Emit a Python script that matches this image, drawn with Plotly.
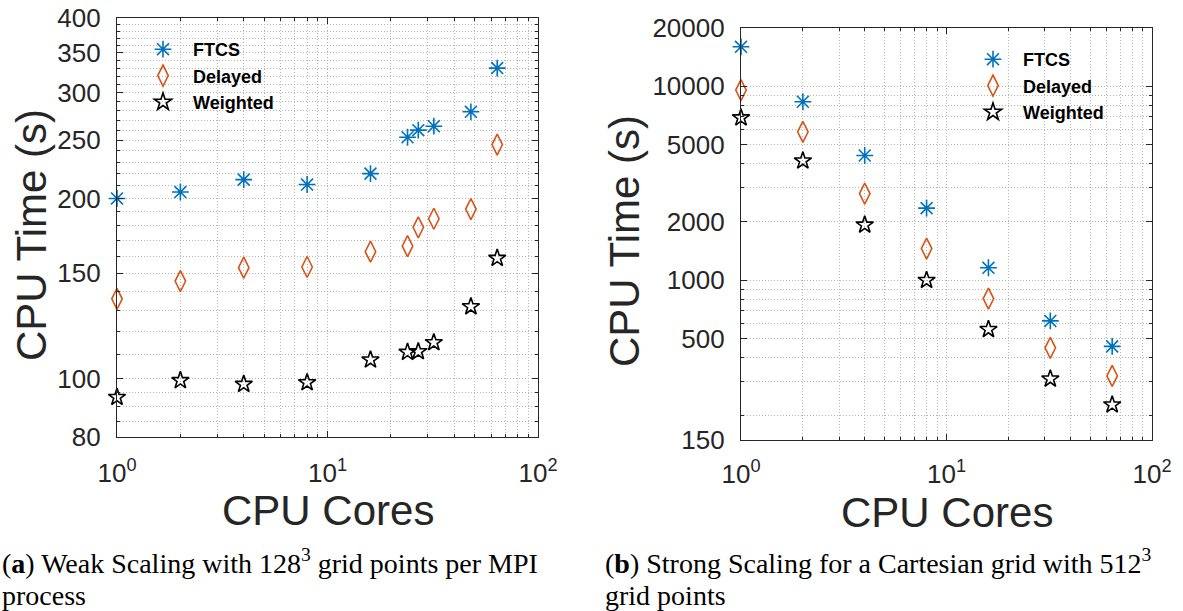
import math
import plotly.graph_objects as go

W, H = 1183, 611

# ---------------- data ----------------
weak_cores = [1, 2, 4, 8, 16, 24, 27, 32, 48, 64]
weak_ftcs = [200, 205, 215, 211, 220, 253, 260, 264, 279, 330]
weak_delayed = [136, 145.6, 153.3, 153.7, 163, 166.5, 179, 185, 192, 246]
weak_weighted = [93.2, 99.4, 98.0, 98.6, 107.6, 110.8, 111.1, 115.0, 132.0, 159]

strong_cores = [1, 2, 4, 8, 16, 32, 64]
strong_ftcs = [16000, 8330, 4400, 2355, 1160, 617, 456]
strong_delayed = [9570, 5830, 2800, 1457, 804, 448, 321]
strong_weighted = [6890, 4130, 1930, 1000, 558, 310, 228]

series_names = ["FTCS", "Delayed", "Weighted"]
x_tickvals = [1, 10, 100]
x_ticktext = ["10<sup>0</sup>", "10<sup>1</sup>", "10<sup>2</sup>"]
x_minor = [2, 3, 4, 5, 6, 7, 8, 9, 20, 30, 40, 50, 60, 70, 80, 90]
weak_yticks = [80, 100, 150, 200, 250, 300, 350, 400]
weak_yminor = [85, 90, 95] + [v for v in range(110, 400, 10) if v not in (150, 200, 250, 300, 350)]
strong_yticks = [150, 500, 1000, 2000, 5000, 10000, 20000]
strong_yminor = [200, 300, 400, 600, 700, 800, 900, 3000, 4000, 6000, 7000, 8000, 9000]

caption_a = ["(<b>a</b>) Weak Scaling with 128<sup>3</sup> grid points per MPI", "process"]
caption_b = ["(<b>b</b>) Strong Scaling for a Cartesian grid with 512<sup>3</sup>", "grid points"]

# ---------------- styles ----------------
AX = "#262626"
GRID = "#b4b4b4"
GDASH = "1px,2px"
styles = [
    dict(symbol="asterisk-open", size=14, color="#0072BD"),
    dict(symbol="diamond-tall-open", size=15, color="#D95319"),
    dict(symbol="star-open", size=13, color="#000000"),
]


def px(x):
    return x / W


def py(y):
    return (H - y) / H


fig = go.Figure()

for name, ys, st in zip(series_names, [weak_ftcs, weak_delayed, weak_weighted], styles):
    fig.add_trace(go.Scatter(
        x=weak_cores, y=ys, mode="markers", name=name, xaxis="x", yaxis="y",
        legend="legend", cliponaxis=False,
        marker=dict(symbol=st["symbol"], size=st["size"], color=st["color"],
                    line=dict(color=st["color"], width=1.6)),
    ))
for name, ys, st in zip(series_names, [strong_ftcs, strong_delayed, strong_weighted], styles):
    fig.add_trace(go.Scatter(
        x=strong_cores, y=ys, mode="markers", name=name, xaxis="x2", yaxis="y2",
        legend="legend2", cliponaxis=False,
        marker=dict(symbol=st["symbol"], size=st["size"], color=st["color"],
                    line=dict(color=st["color"], width=1.6)),
    ))

tickfont = dict(family="Liberation Sans, Arial", size=26, color=AX)


def xaxis(domain, anchor, standoff):
    return dict(
        type="log", range=[0, 2], domain=domain, anchor=anchor, automargin=False,
        tickmode="array", tickvals=x_tickvals, ticktext=x_ticktext,
        tickfont=tickfont, ticks="inside", ticklen=6, tickcolor=AX, tickwidth=1,
        showline=True, linecolor=AX, linewidth=1.2, mirror="allticks",
        showgrid=True, gridcolor=GRID, griddash=GDASH, gridwidth=1,
        ticklabelstandoff=standoff,
        minor=dict(tickmode="array", tickvals=x_minor, ticks="inside", ticklen=3,
                   tickcolor=AX, showgrid=True, gridcolor=GRID, griddash=GDASH, gridwidth=1),
        zeroline=False,
    )


def yaxis(domain, anchor, rng, tv, mv):
    return dict(
        type="log", range=rng, domain=domain, anchor=anchor, automargin=False,
        tickmode="array", tickvals=tv, ticktext=[str(v) for v in tv],
        tickfont=tickfont, ticks="inside", ticklen=6, tickcolor=AX, tickwidth=1,
        showline=True, linecolor=AX, linewidth=1.2, mirror="allticks",
        showgrid=True, gridcolor=GRID, griddash=GDASH, gridwidth=1,
        ticklabelstandoff=10,
        minor=dict(tickmode="array", tickvals=mv, ticks="inside", ticklen=3,
                   tickcolor=AX, showgrid=True, gridcolor=GRID, griddash=GDASH, gridwidth=1),
        zeroline=False,
    )


legend_font = dict(family="Liberation Sans, Arial", size=18, color="black", weight="bold")
fig.update_layout(
    width=W, height=H,
    margin=dict(l=0, r=0, t=0, b=0, autoexpand=False),
    paper_bgcolor="white", plot_bgcolor="white",
    xaxis=xaxis([px(117), px(538)], "y", 13),
    yaxis=yaxis([py(437), py(18)], "x", [math.log10(80), math.log10(400)], weak_yticks, weak_yminor),
    xaxis2=xaxis([px(741), px(1152)], "y2", 11),
    yaxis2=yaxis([py(440), py(28)], "x2", [math.log10(150), math.log10(20000)], strong_yticks, strong_yminor),
    legend=dict(x=px(133), y=py(31), xanchor="left", yanchor="top", itemwidth=50,
                bgcolor="rgba(0,0,0,0)", borderwidth=0, font=legend_font),
    legend2=dict(x=px(963), y=py(41), xanchor="left", yanchor="top", itemwidth=50,
                 bgcolor="rgba(0,0,0,0)", borderwidth=0, font=legend_font),
    showlegend=True,
)

title_font = dict(family="Liberation Sans, Arial", size=42, color=AX)
ann = [
    dict(text="CPU Time (s)", x=px(32), y=py(235), textangle=-90, font=title_font),
    dict(text="CPU Time (s)", x=px(624), y=py(241), textangle=-90, font=title_font),
    dict(text="CPU Cores", x=px(327.5), y=py(510), font=title_font),
    dict(text="CPU Cores", x=px(946.5), y=py(512), font=title_font),
]
cap_font = dict(family="Liberation Serif, Times New Roman", size=28, color="black")
for i, t in enumerate(caption_a):
    ann.append(dict(text=t, x=px(0), y=py(561 + 34 * i), xanchor="left", font=cap_font))
for i, t in enumerate(caption_b):
    ann.append(dict(text=t, x=px(603), y=py(561 + 34 * i), xanchor="left", font=cap_font))
for a in ann:
    a.update(xref="paper", yref="paper", showarrow=False)
    a.setdefault("xanchor", "center")
    a.setdefault("yanchor", "middle")
fig.update_layout(annotations=ann)

fig.write_html("out.html")
